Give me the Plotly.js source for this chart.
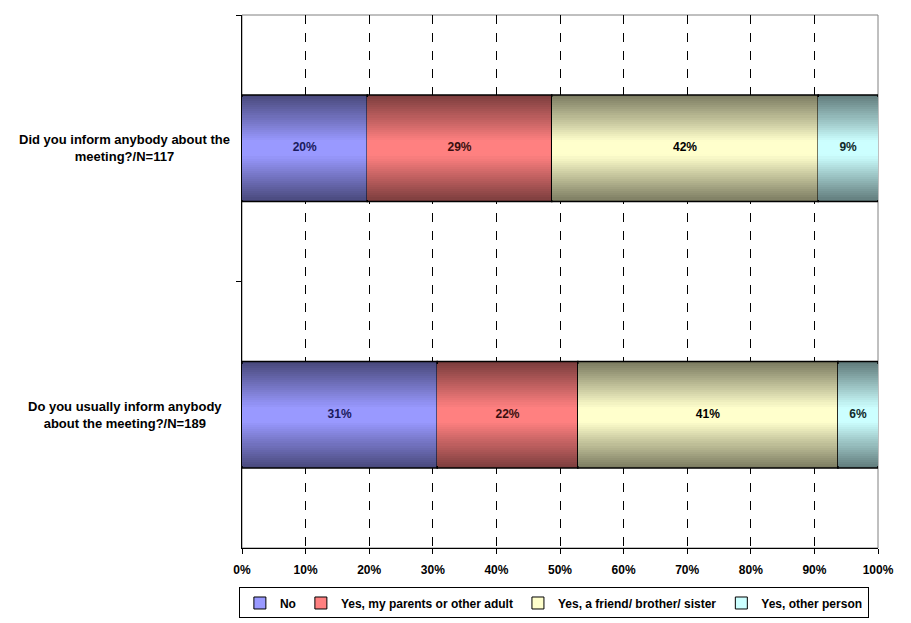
<!DOCTYPE html>
<html>
<head>
<meta charset="utf-8">
<script src="https://cdn.plot.ly/plotly-3.0.1.min.js"></script>
<style>html,body{margin:0;padding:0;background:#fff;}#chart{width:911px;height:623px;}</style>
</head>
<body>
<div id="chart"></div>
<script>
// ---- data ----
const categories = ["Did you inform anybody about the<br>meeting?/N=117", "Do you usually inform anybody<br>about the meeting?/N=189"];
const seriesNames = ["No", "Yes, my parents or other adult", "Yes, a friend/ brother/ sister", "Yes, other person"];
const valuesNo = [19.7, 30.7];
const valuesParents = [29.0, 22.1];
const valuesFriend = [41.9, 40.9];
const valuesOther = [9.4, 6.3];
const xTickVals = [0, 10, 20, 30, 40, 50, 60, 70, 80, 90, 100];
const xTickText = ["0%", "10%", "20%", "30%", "40%", "50%", "60%", "70%", "80%", "90%", "100%"];

// ---- styles ----
const centerColors = [[153,153,255],[255,128,128],[255,255,204],[204,255,255]];
const edgeColors = [[72,72,122],[122,60,60],[122,122,96],[96,122,122]];
const labelColors = ["#1a1a5c", "#3a0f0f", "#000000", "#102a2a"];
const barWidth = 0.4;
const nLayers = 26;
const font = "Liberation Sans, Arial, sans-serif";

const allSeries = [valuesNo, valuesParents, valuesFriend, valuesOther];
const traces = [];
const rgb = c => `rgb(${c.map(Math.round).join(",")})`;
const mix = (a, b, t) => a.map((v, i) => v + (b[i] - v) * t);

// cumulative bases (stacked) from data
const bases = allSeries.map((s, si) => s.map((_, ci) => {
  let b = 0; for (let k = 0; k < si; k++) b += allSeries[k][ci]; return b;
}));

allSeries.forEach((vals, si) => {
  for (let L = 0; L < nLayers; L++) {
    const frac = 1 - L / nLayers;
    const w = barWidth * frac;
    const t = 1 - (frac - 0.5 / nLayers);
    const col = mix(edgeColors[si], centerColors[si], Math.min(1, Math.max(0, t * 1.15)));
    traces.push({
      type: "bar", orientation: "h",
      x: vals, y: categories, base: bases[si],
      width: categories.map(() => w),
      marker: { color: rgb(col), line: { color: "#000", width: L === 0 ? 1.5 : 0 } },
      showlegend: false, hoverinfo: "skip", textposition: "none"
    });
  }
});

// value labels
allSeries.forEach((vals, si) => {
  traces.push({
    type: "scatter", mode: "text",
    x: vals.map((v, i) => bases[si][i] + v / 2), y: categories,
    text: vals.map(v => Math.round(v) + "%"),
    textfont: { family: font, size: 12, color: labelColors[si], weight: "bold" },
    showlegend: false, hoverinfo: "skip", cliponaxis: false
  });
});

// legend entries
allSeries.forEach((vals, si) => {
  traces.push({
    type: "bar", orientation: "h", x: [null], y: [null], name: seriesNames[si],
    marker: { color: rgb(centerColors[si]), line: { color: "#000", width: 1 } },
    showlegend: true, hoverinfo: "skip"
  });
});

const annotations = categories.map(c => ({
  xref: "paper", yref: "y", x: -0.184, y: c, text: c, showarrow: false,
  align: "center", xanchor: "center", yanchor: "middle",
  font: { family: font, size: 13, color: "#000", weight: "bold" }
}));

const layout = {
  width: 911, height: 623,
  margin: { l: 242, r: 33, t: 15, b: 75 },
  paper_bgcolor: "#fff", plot_bgcolor: "#fff",
  barmode: "overlay", bargap: 0,
  showlegend: true,
  legend: {
    orientation: "h", xref: "container", x: 0.608, xanchor: "center",
    yref: "container", y: 0.057, yanchor: "top",
    bordercolor: "#000", borderwidth: 1, bgcolor: "#fff",
    font: { family: font, size: 12, color: "#000", weight: "bold" },
    itemwidth: 30, traceorder: "normal", tracegroupgap: 0
  },
  xaxis: {
    range: [0, 100], tickvals: xTickVals, ticktext: xTickText,
    showgrid: true, gridcolor: "#000", gridwidth: 1, griddash: "dash",
    zeroline: false, showline: true, linecolor: "#000", linewidth: 1,
    ticks: "outside", ticklen: 5, tickcolor: "#000", ticklabelstandoff: 6,
    tickfont: { family: font, size: 12, color: "#000", weight: "bold" },
    fixedrange: true, automargin: false
  },
  yaxis: {
    type: "category", categoryorder: "array", categoryarray: categories,
    autorange: "reversed", tickson: "boundaries",
    showticklabels: false, showgrid: false, zeroline: false,
    showline: true, linecolor: "#000", linewidth: 1,
    ticks: "outside", ticklen: 5, tickcolor: "#000", fixedrange: true, automargin: false
  },
  shapes: [{
    type: "rect", xref: "paper", yref: "paper", x0: 0, x1: 1, y0: 0, y1: 1,
    line: { color: "#808080", width: 1 }, layer: "below"
  }],
  annotations: annotations
};

Plotly.newPlot("chart", traces, layout, { displayModeBar: false, staticPlot: true });
</script>
</body>
</html>
